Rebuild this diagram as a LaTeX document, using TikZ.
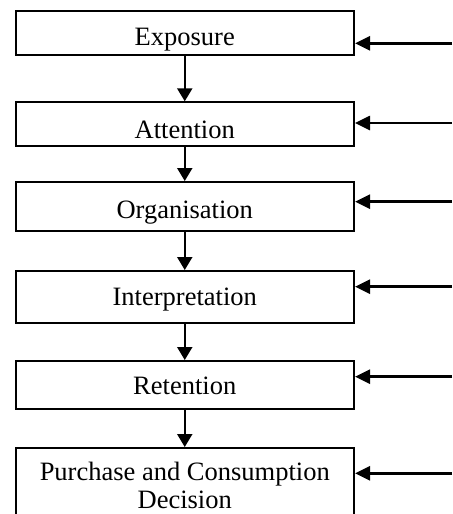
\documentclass[tikz,border=0pt]{standalone}
\usepackage{fontspec}
\setmainfont{Liberation Serif}
\usetikzlibrary{arrows.meta,positioning}
\tikzset{
    semithick,
    stage/.style={rectangle, draw, line width=1pt, inner sep=0pt, minimum width=169.25pt, align=center, font=\fontsize{13.25}{14.15}\selectfont},
    flow/.style={-{Triangle[length=6.5pt,width=7.5pt]}, line width=1.1pt},
    cue/.style={-{Triangle[length=7.5pt,width=7pt]}, line width=1.3pt}
}

\begin{document}
\begin{tikzpicture}
    \useasboundingbox (0,0) rectangle (226pt,-257pt);
    % The stages of perception
    \node[stage, anchor=north west, text height=17.75pt, text depth=4.5pt] (exposure) at (7.25pt,-4.75pt) {Exposure};
    \node[stage, text height=17.85pt, text depth=4.15pt] (attention) [below=22.65pt of exposure] {Attention};
    \node[stage, text height=18.15pt, text depth=6.35pt] (organisation) [below=16.85pt of attention] {Organisation};
    \node[stage, text height=17pt, text depth=9pt] (interpretation) [below=19pt of organisation] {Interpretation};
    \node[stage, text height=16.5pt, text depth=7.5pt] (retention) [below=18pt of interpretation] {Retention};
    \node[stage, minimum height=37.5pt] (decision) [below=18.5pt of retention] {Purchase and Consumption\\Decision};
    % Draw the flow between stages
    \draw[flow] (exposure) -- (attention);
    \draw[flow] (attention) -- (organisation);
    \draw[flow] (organisation) -- (interpretation);
    \draw[flow] (interpretation) -- (retention);
    \draw[flow] (retention) -- (decision);
    % Inputs coming in from the right
    \coordinate (in1) at (226pt,-21.65pt);
    \coordinate (in2) at (226pt,-61.5pt);
    \coordinate (in3) at (226pt,-100.85pt);
    \coordinate (in4) at (226pt,-143.35pt);
    \coordinate (in5) at (226pt,-188.35pt);
    \coordinate (in6) at (226pt,-236.65pt);
    \draw[cue] (in1) -- (in1 -| exposure.east);
    \draw[cue] (in2) -- (in2 -| attention.east);
    \draw[cue] (in3) -- (in3 -| organisation.east);
    \draw[cue] (in4) -- (in4 -| interpretation.east);
    \draw[cue] (in5) -- (in5 -| retention.east);
    \draw[cue] (in6) -- (in6 -| decision.east);
\end{tikzpicture}
\end{document}
